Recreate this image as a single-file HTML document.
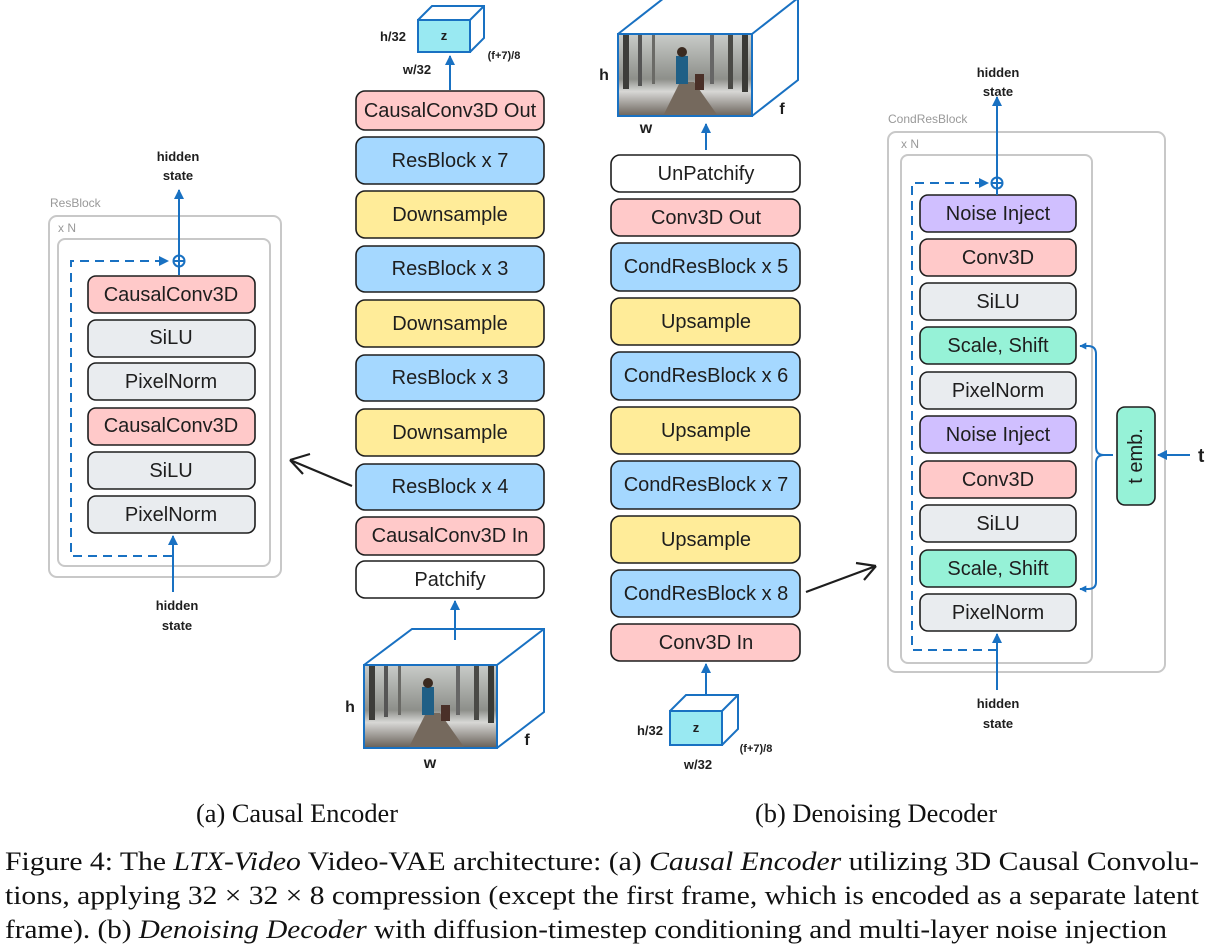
<!DOCTYPE html>
<html><head><meta charset="utf-8"><style>
body{margin:0;background:#fff;width:1210px;height:950px;overflow:hidden}
svg{display:block}
.b{stroke:#1e1e1e;stroke-width:1.6}
.t{font-family:"Liberation Sans",sans-serif;font-size:20px;fill:#1e1e1e;text-anchor:middle;dominant-baseline:central}
.h{font-family:"Liberation Sans",sans-serif;font-size:13px;fill:#1e1e1e;text-anchor:middle;font-weight:bold}
.g{font-family:"Liberation Sans",sans-serif;font-size:12px;fill:#999}
.bl{stroke:#1971c2;stroke-width:2;fill:none}
.cap{font-family:"Liberation Serif",serif;font-size:26px;fill:#111}
</style></head><body>
<svg width="1210" height="950" viewBox="0 0 1210 950">
<defs>
<marker id="ar" viewBox="0 0 10 10" refX="9" refY="5" markerWidth="5" markerHeight="5" orient="auto"><path d="M0,0L10,5L0,10z" fill="#1971c2"/></marker>
<marker id="as" viewBox="0 0 10 10" refX="9" refY="5" markerWidth="3.5" markerHeight="3.5" orient="auto"><path d="M0,0L10,5L0,10z" fill="#1971c2"/></marker>
<linearGradient id="img" x1="0" y1="0" x2="0" y2="1"><stop offset="0" stop-color="#c9ccc9"/><stop offset="0.55" stop-color="#8d8f8a"/><stop offset="0.7" stop-color="#d8d8d6"/><stop offset="1" stop-color="#6b645c"/></linearGradient>
<g id="photo">
<rect width="134" height="82" fill="url(#img)"/>
<rect x="5" y="0" width="6" height="55" fill="#3d3d3a"/><rect x="20" y="0" width="4" height="52" fill="#555"/><rect x="34" y="0" width="3" height="50" fill="#6a6a66"/><rect x="92" y="0" width="4" height="50" fill="#666"/><rect x="110" y="0" width="5" height="55" fill="#4a4a46"/><rect x="124" y="0" width="6" height="58" fill="#3a3a36"/>
<path d="M45,82 L62,48 L76,48 L100,82z" fill="#75695d"/>
<rect x="58" y="22" width="12" height="28" fill="#1f5f86"/><circle cx="64" cy="18" r="5" fill="#3a2a20"/>
<rect x="77" y="40" width="9" height="16" fill="#4a3028"/>
</g>
</defs>

<g>
<rect class="b" x="356" y="91" width="188" height="39" rx="9" fill="#ffc9c9"/><text class="t" x="450" y="111">CausalConv3D Out</text>
<rect class="b" x="356" y="137" width="188" height="47" rx="9" fill="#a5d8ff"/><text class="t" x="450" y="161">ResBlock x 7</text>
<rect class="b" x="356" y="191" width="188" height="47" rx="9" fill="#ffec99"/><text class="t" x="450" y="215">Downsample</text>
<rect class="b" x="356" y="246" width="188" height="46" rx="9" fill="#a5d8ff"/><text class="t" x="450" y="269">ResBlock x 3</text>
<rect class="b" x="356" y="300" width="188" height="47" rx="9" fill="#ffec99"/><text class="t" x="450" y="324">Downsample</text>
<rect class="b" x="356" y="355" width="188" height="46" rx="9" fill="#a5d8ff"/><text class="t" x="450" y="378">ResBlock x 3</text>
<rect class="b" x="356" y="409" width="188" height="47" rx="9" fill="#ffec99"/><text class="t" x="450" y="433">Downsample</text>
<rect class="b" x="356" y="464" width="188" height="46" rx="9" fill="#a5d8ff"/><text class="t" x="450" y="487">ResBlock x 4</text>
<rect class="b" x="356" y="517" width="188" height="38" rx="9" fill="#ffc9c9"/><text class="t" x="450" y="536">CausalConv3D In</text>
<rect class="b" x="356" y="561" width="188" height="37" rx="9" fill="#fff"/><text class="t" x="450" y="580">Patchify</text>
<line class="bl" x1="455" y1="640" x2="455" y2="601" marker-end="url(#ar)"/>
<line class="bl" x1="450" y1="90" x2="450" y2="56" marker-end="url(#ar)"/>
<path class="bl" d="M364,665 L412,629 L544,629 L544,712 L497,748 M497,665 L544,629"/>
<use href="#photo" x="364" y="665"/>
<rect x="364" y="665" width="133" height="83" class="bl"/>
<text class="h" x="350" y="712" style="font-size:16px">h</text>
<text class="h" x="430" y="768" style="font-size:16px">w</text>
<text class="h" x="527" y="745" style="font-size:16px">f</text>
<path class="bl" d="M418,20 L432,6 L484,6 L484,38 L470,52 M470,20 L484,6" />
<rect x="418" y="20" width="52" height="32" class="bl" style="fill:#99e9f2"/>
<text class="h" x="444" y="40">z</text>
<text class="h" x="393" y="41">h/32</text>
<text class="h" x="417" y="74">w/32</text>
<text class="h" x="504" y="59" style="font-size:11px">(f+7)/8</text>
</g>

<g>
<rect class="b" x="611" y="155" width="189" height="37" rx="9" fill="#fff"/><text class="t" x="706" y="174">UnPatchify</text>
<rect class="b" x="611" y="199" width="189" height="37" rx="9" fill="#ffc9c9"/><text class="t" x="706" y="218">Conv3D Out</text>
<rect class="b" x="611" y="243" width="189" height="48" rx="9" fill="#a5d8ff"/><text class="t" x="706" y="267">CondResBlock x 5</text>
<rect class="b" x="611" y="298" width="189" height="47" rx="9" fill="#ffec99"/><text class="t" x="706" y="322">Upsample</text>
<rect class="b" x="611" y="352" width="189" height="48" rx="9" fill="#a5d8ff"/><text class="t" x="706" y="376">CondResBlock x 6</text>
<rect class="b" x="611" y="407" width="189" height="47" rx="9" fill="#ffec99"/><text class="t" x="706" y="431">Upsample</text>
<rect class="b" x="611" y="461" width="189" height="48" rx="9" fill="#a5d8ff"/><text class="t" x="706" y="485">CondResBlock x 7</text>
<rect class="b" x="611" y="516" width="189" height="47" rx="9" fill="#ffec99"/><text class="t" x="706" y="540">Upsample</text>
<rect class="b" x="611" y="570" width="189" height="47" rx="9" fill="#a5d8ff"/><text class="t" x="706" y="594">CondResBlock x 8</text>
<rect class="b" x="611" y="624" width="189" height="37" rx="9" fill="#ffc9c9"/><text class="t" x="706" y="643">Conv3D In</text>
<line class="bl" x1="706" y1="696" x2="706" y2="664" marker-end="url(#ar)"/>
<line class="bl" x1="706" y1="150" x2="706" y2="124" marker-end="url(#ar)"/>
<path class="bl" d="M618,34 L664,-2 M752,34 L798,-2 L798,80 L752,116"/>
<use href="#photo" x="618" y="34"/>
<rect x="618" y="34" width="134" height="82" class="bl"/>
<text class="h" x="604" y="80" style="font-size:16px">h</text>
<text class="h" x="646" y="133" style="font-size:16px">w</text>
<text class="h" x="782" y="114" style="font-size:16px">f</text>
<path class="bl" d="M670,711 L686,695 L738,695 L738,729 L722,745 M722,711 L738,695"/>
<rect x="670" y="711" width="52" height="34" class="bl" style="fill:#99e9f2"/>
<text class="h" x="696" y="732">z</text>
<text class="h" x="650" y="735">h/32</text>
<text class="h" x="698" y="769">w/32</text>
<text class="h" x="756" y="752" style="font-size:11px">(f+7)/8</text>
</g>

<g>
<text class="g" x="50" y="207">ResBlock</text>
<rect x="49" y="216" width="232" height="361" rx="8" fill="none" stroke="#c8c8c8" stroke-width="2"/>
<text class="g" x="58" y="232">x N</text>
<rect x="58" y="239" width="212" height="327" rx="7" fill="none" stroke="#c8c8c8" stroke-width="2"/>
<rect class="b" x="88" y="276" width="167" height="37" rx="8" fill="#ffc9c9"/><text class="t" x="171" y="295">CausalConv3D</text>
<rect class="b" x="88" y="320" width="167" height="37" rx="8" fill="#e9ecef"/><text class="t" x="171" y="338">SiLU</text>
<rect class="b" x="88" y="363" width="167" height="37" rx="8" fill="#e9ecef"/><text class="t" x="171" y="382">PixelNorm</text>
<rect class="b" x="88" y="408" width="167" height="37" rx="8" fill="#ffc9c9"/><text class="t" x="171" y="426">CausalConv3D</text>
<rect class="b" x="88" y="452" width="167" height="37" rx="8" fill="#e9ecef"/><text class="t" x="171" y="471">SiLU</text>
<rect class="b" x="88" y="496" width="167" height="37" rx="8" fill="#e9ecef"/><text class="t" x="171" y="515">PixelNorm</text>
<path class="bl" stroke-dasharray="9,6" d="M172,556 L71,556 L71,261 L168,261" marker-end="url(#ar)"/>
<circle cx="179" cy="261" r="5.5" class="bl"/><path class="bl" d="M173.5,261h11M179,255.5v11" stroke-width="1.5"/>
<line class="bl" x1="179" y1="275" x2="179" y2="190" marker-end="url(#ar)"/>
<line class="bl" x1="173" y1="592" x2="173" y2="536" marker-end="url(#ar)"/>
<text class="h" x="178" y="161">hidden</text><text class="h" x="178" y="180">state</text>
<text class="h" x="177" y="610">hidden</text><text class="h" x="177" y="630">state</text>
<path d="M352,486 L290,460 M290,460 L310,454 M290,460 L303,474" stroke="#1e1e1e" stroke-width="2.2" fill="none"/>
</g>

<g>
<text class="g" x="888" y="123">CondResBlock</text>
<rect x="888" y="132" width="277" height="540" rx="8" fill="none" stroke="#c8c8c8" stroke-width="2"/>
<text class="g" x="901" y="148">x N</text>
<rect x="901" y="155" width="191" height="508" rx="7" fill="none" stroke="#c8c8c8" stroke-width="2"/>
<rect class="b" x="920" y="195" width="156" height="37" rx="8" fill="#d0bfff"/><text class="t" x="998" y="214">Noise Inject</text>
<rect class="b" x="920" y="239" width="156" height="37" rx="8" fill="#ffc9c9"/><text class="t" x="998" y="258">Conv3D</text>
<rect class="b" x="920" y="283" width="156" height="37" rx="8" fill="#e9ecef"/><text class="t" x="998" y="302">SiLU</text>
<rect class="b" x="920" y="327" width="156" height="37" rx="8" fill="#96f2d7"/><text class="t" x="998" y="346">Scale, Shift</text>
<rect class="b" x="920" y="372" width="156" height="37" rx="8" fill="#e9ecef"/><text class="t" x="998" y="391">PixelNorm</text>
<rect class="b" x="920" y="416" width="156" height="37" rx="8" fill="#d0bfff"/><text class="t" x="998" y="435">Noise Inject</text>
<rect class="b" x="920" y="461" width="156" height="37" rx="8" fill="#ffc9c9"/><text class="t" x="998" y="480">Conv3D</text>
<rect class="b" x="920" y="505" width="156" height="37" rx="8" fill="#e9ecef"/><text class="t" x="998" y="524">SiLU</text>
<rect class="b" x="920" y="550" width="156" height="37" rx="8" fill="#96f2d7"/><text class="t" x="998" y="569">Scale, Shift</text>
<rect class="b" x="920" y="594" width="156" height="37" rx="8" fill="#e9ecef"/><text class="t" x="998" y="613">PixelNorm</text>
<path class="bl" stroke-dasharray="9,6" d="M997,650 L912,650 L912,183 L988,183" marker-end="url(#ar)"/>
<circle cx="997" cy="183" r="5.5" class="bl"/><path class="bl" d="M991.5,183h11M997,177.5v11" stroke-width="1.5"/>
<line class="bl" x1="997" y1="195" x2="997" y2="97" marker-end="url(#ar)"/>
<line class="bl" x1="997" y1="690" x2="997" y2="634" marker-end="url(#ar)"/>
<text class="h" x="998" y="77">hidden</text><text class="h" x="998" y="96">state</text>
<text class="h" x="998" y="708">hidden</text><text class="h" x="998" y="728">state</text>
<rect class="b" x="1117" y="407" width="38" height="98" rx="8" fill="#96f2d7"/>
<text class="t" transform="translate(1136,456) rotate(-90)" x="0" y="0">t emb.</text>
<line class="bl" x1="1190" y1="455" x2="1158" y2="455" marker-end="url(#ar)"/>
<text x="1198" y="462" style="font-family:'Liberation Sans',sans-serif;font-size:19px;font-weight:bold;fill:#1e1e1e">t</text>
<path class="bl" d="M1113,455 L1104,455 Q1096,455 1096,447 L1096,354 Q1096,346 1088,346 L1080,346" marker-end="url(#as)"/>
<path class="bl" d="M1104,455 Q1096,455 1096,463 L1096,582 Q1096,589 1088,589 L1080,589" marker-end="url(#as)"/>
<path d="M806,592 L876,566 M876,566 L856,563 M876,566 L864,580" stroke="#1e1e1e" stroke-width="2.2" fill="none"/>
</g>

<text class="cap" x="196" y="822" textLength="202" lengthAdjust="spacingAndGlyphs">(a) Causal Encoder</text>
<text class="cap" x="755" y="822" textLength="242" lengthAdjust="spacingAndGlyphs">(b) Denoising Decoder</text>
<text class="cap" x="5" y="870" textLength="1194" lengthAdjust="spacingAndGlyphs">Figure 4: The <tspan font-style="italic">LTX-Video</tspan> Video-VAE architecture: (a) <tspan font-style="italic">Causal Encoder</tspan> utilizing 3D Causal Convolu-</text>
<text class="cap" x="5" y="904" textLength="1194" lengthAdjust="spacingAndGlyphs">tions, applying 32 × 32 × 8 compression (except the first frame, which is encoded as a separate latent</text>
<text class="cap" x="5" y="938" textLength="1162" lengthAdjust="spacingAndGlyphs">frame). (b) <tspan font-style="italic">Denoising Decoder</tspan> with diffusion-timestep conditioning and multi-layer noise injection</text>
</svg>
</body></html>
